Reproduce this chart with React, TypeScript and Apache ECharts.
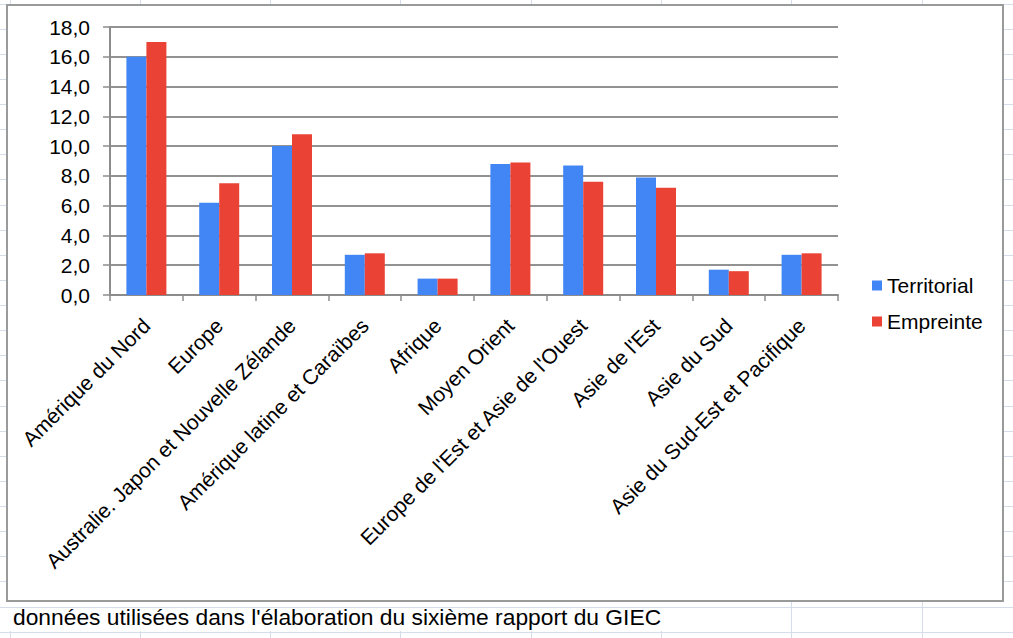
import React, { useEffect, useRef } from "react";
import * as echarts from "echarts";

const categories = [
  "Amérique du Nord",
  "Europe",
  "Australie. Japon et Nouvelle Zélande",
  "Amérique latine et Caraïbes",
  "Afrique",
  "Moyen Orient",
  "Europe de l'Est et Asie de l'Ouest",
  "Asie de l'Est",
  "Asie du Sud",
  "Asie du Sud-Est et Pacifique",
];
const territorial = [16.0, 6.2, 10.0, 2.7, 1.1, 8.8, 8.7, 7.9, 1.7, 2.7];
const empreinte = [17.0, 7.5, 10.8, 2.8, 1.1, 8.9, 7.6, 7.2, 1.6, 2.8];
const seriesNames = ["Territorial", "Empreinte"];
const footerText = "données utilisées dans l'élaboration du sixième rapport du GIEC";

const W = 1013;
const H = 638;
const FONT = "'Liberation Sans', Arial, sans-serif";
const SHEET = "#d5dcea";

function buildSheetGraphics() {
  const els: any[] = [];
  const rowYs: number[] = [];
  for (let k = 0; k < 27; k++) rowYs.push(Math.round(3.5 + 25.125 * k) + 0.5);
  const colXs = [10, 140, 270, 400, 531, 661, 791, 922].map((x) => x + 0.5);
  rowYs.forEach((y) => {
    if (y < 600) {
      els.push({ type: "line", z: -20, shape: { x1: 0, y1: y, x2: 7, y2: y }, style: { stroke: SHEET, lineWidth: 1 } });
      els.push({ type: "line", z: -20, shape: { x1: 1003, y1: y, x2: W, y2: y }, style: { stroke: SHEET, lineWidth: 1 } });
    } else {
      els.push({ type: "line", z: -20, shape: { x1: 0, y1: y, x2: W, y2: y }, style: { stroke: SHEET, lineWidth: 1 } });
    }
  });
  colXs.forEach((x) => {
    els.push({ type: "line", z: -20, shape: { x1: x, y1: 0, x2: x, y2: 5 }, style: { stroke: SHEET, lineWidth: 1 } });
    const yStart = x < 680 ? 631 : 601;
    els.push({ type: "line", z: -20, shape: { x1: x, y1: yStart, x2: x, y2: H }, style: { stroke: SHEET, lineWidth: 1 } });
  });
  els.push({
    type: "rect",
    z: -10,
    shape: { x: 7, y: 5, width: 996, height: 596 },
    style: { fill: "#ffffff", stroke: "#9a9a9a", lineWidth: 2 },
  });
  els.push({
    type: "text",
    z: 5,
    x: 13,
    y: 628,
    style: { text: footerText, font: `22.8px ${FONT}`, fill: "#000000", textVerticalAlign: "bottom" },
  });
  return els;
}

export default function App() {
  const ref = useRef<HTMLDivElement>(null);
  useEffect(() => {
    if (!ref.current) return;
    const chart = echarts.init(ref.current, undefined, { renderer: "svg" });
    chart.setOption({
      animation: false,
      backgroundColor: "#ffffff",
      textStyle: { fontFamily: FONT },
      graphic: buildSheetGraphics(),
      legend: {
        orient: "vertical",
        left: 867,
        top: 270,
        itemWidth: 10,
        itemHeight: 10,
        itemGap: 15,
        icon: "rect",
        textStyle: { fontSize: 21, color: "#000", fontFamily: FONT },
        data: seriesNames,
      },
      grid: { left: 110, top: 27, right: 175, bottom: 343, containLabel: false },
      xAxis: {
        type: "category",
        data: categories,
        boundaryGap: true,
        axisLine: { lineStyle: { color: "#8c8c8c", width: 2 } },
        axisTick: { show: true, length: 6, lineStyle: { color: "#8c8c8c", width: 1.5 } },
        axisLabel: {
          interval: 0,
          rotate: 45,
          margin: 27,
          fontSize: 21,
          color: "#000",
          fontFamily: FONT,
        },
      },
      yAxis: {
        type: "value",
        min: 0,
        max: 18,
        interval: 2,
        axisLine: { show: true, lineStyle: { color: "#8c8c8c", width: 2 } },
        axisTick: { show: true, length: 7, lineStyle: { color: "#8c8c8c", width: 1.5 } },
        splitLine: { show: true, lineStyle: { color: "#929292", width: 2 } },
        axisLabel: {
          margin: 20,
          fontSize: 21,
          color: "#000",
          fontFamily: FONT,
          formatter: (v: number) => v.toFixed(1).replace(".", ","),
        },
      },
      series: [
        {
          name: seriesNames[0],
          type: "bar",
          data: territorial,
          barWidth: 20,
          barGap: "0%",
          itemStyle: { color: "#4285f4" },
        },
        {
          name: seriesNames[1],
          type: "bar",
          data: empreinte,
          barWidth: 20,
          barGap: "0%",
          itemStyle: { color: "#ea4335" },
        },
      ],
    });
    return () => chart.dispose();
  }, []);
  return (
    <div
      ref={ref}
      style={{ position: "absolute", left: 0, top: 0, width: W, height: H, background: "#fff" }}
    />
  );
}
